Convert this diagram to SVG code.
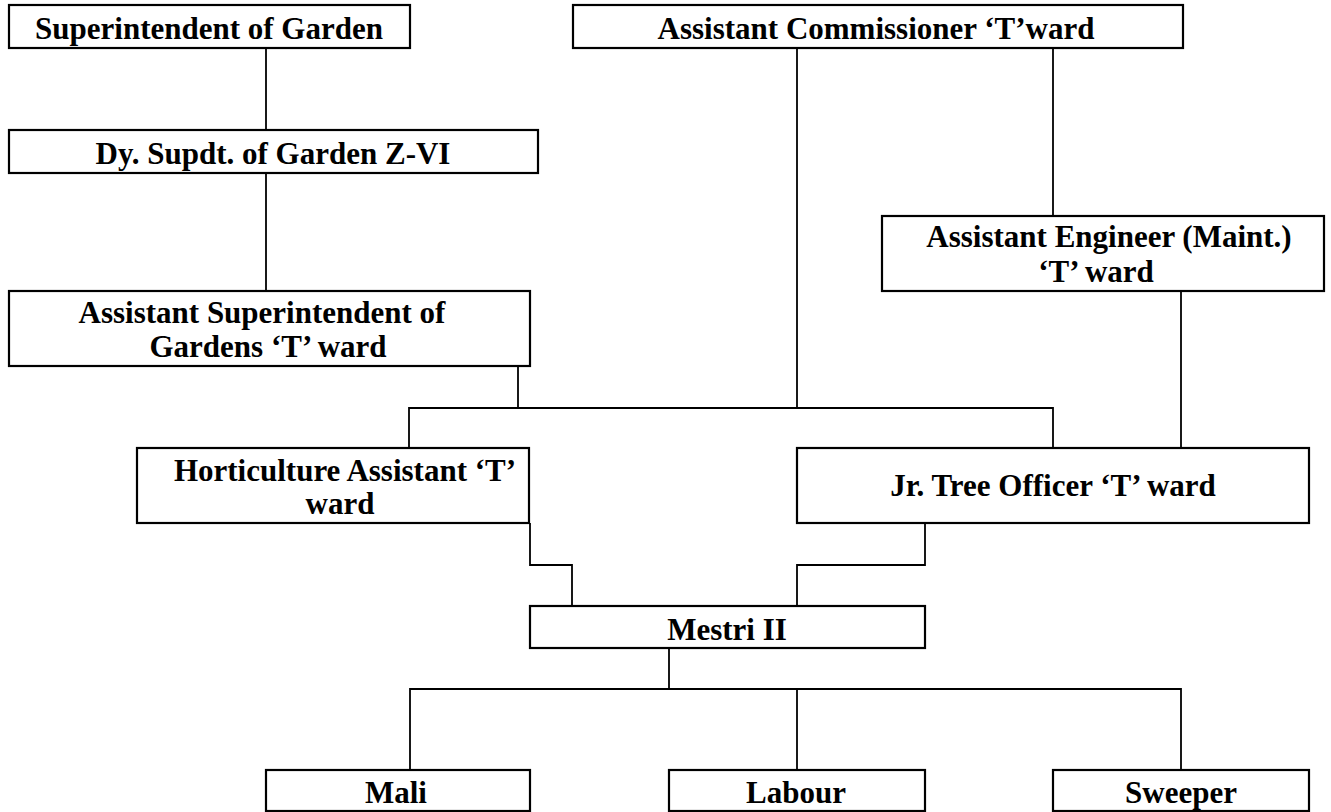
<svg xmlns="http://www.w3.org/2000/svg" width="1331" height="812" viewBox="0 0 1331 812">
<style>
.box{fill:#fff;stroke:#000;stroke-width:2.2}
.t{font-family:"Liberation Serif","Times New Roman",serif;font-weight:bold;font-size:31px;text-anchor:middle;fill:#000}
.c{fill:none;stroke:#000;stroke-width:1.8}
</style>
<rect width="1331" height="812" fill="#fff"/>
<g id="connectors">
<path class="c" d="M266,48V130"/>
<path class="c" d="M266,173V291"/>
<path class="c" d="M797,48V408"/>
<path class="c" d="M1053,48V216"/>
<path class="c" d="M518,366V408"/>
<path class="c" d="M409,448V408H1053V448"/>
<path class="c" d="M1181,291V448"/>
<path class="c" d="M530,523V565H572V606"/>
<path class="c" d="M925,523V565H797V606"/>
<path class="c" d="M669,648V689"/>
<path class="c" d="M410,770V689H1181V770"/>
<path class="c" d="M797,689V770"/>
</g>
<g id="sup-garden"><rect class="box" x="9" y="5" width="401" height="43"/><text class="t" x="209" y="39">Superintendent of Garden</text></g>
<g id="asst-commissioner"><rect class="box" x="573" y="5" width="610" height="43"/><text class="t" x="876" y="39">Assistant Commissioner ‘T’ward</text></g>
<g id="dy-supdt"><rect class="box" x="9" y="130" width="529" height="43"/><text class="t" x="273" y="164">Dy. Supdt. of Garden Z-VI</text></g>
<g id="asst-engineer"><rect class="box" x="882" y="216" width="442" height="75"/><text class="t" x="1109" y="247">Assistant Engineer (Maint.)</text><text class="t" x="1096" y="282">‘T’ ward</text></g>
<g id="asst-supt"><rect class="box" x="9" y="291" width="521" height="75"/><text class="t" x="262" y="323">Assistant Superintendent of</text><text class="t" x="268" y="357">Gardens ‘T’ ward</text></g>
<g id="horticulture"><rect class="box" x="137" y="448" width="392" height="75"/><text class="t" x="345" y="481">Horticulture Assistant ‘T’</text><text class="t" x="340" y="514">ward</text></g>
<g id="jr-tree"><rect class="box" x="797" y="448" width="512" height="75"/><text class="t" x="1053" y="496">Jr. Tree Officer ‘T’ ward</text></g>
<g id="mestri"><rect class="box" x="530" y="606" width="395" height="42"/><text class="t" x="727" y="640">Mestri II</text></g>
<g id="mali"><rect class="box" x="266" y="770" width="264" height="41"/><text class="t" x="396" y="803">Mali</text></g>
<g id="labour"><rect class="box" x="669" y="770" width="256" height="41"/><text class="t" x="796" y="803">Labour</text></g>
<g id="sweeper"><rect class="box" x="1053" y="770" width="256" height="41"/><text class="t" x="1181" y="803">Sweeper</text></g>
</svg>
